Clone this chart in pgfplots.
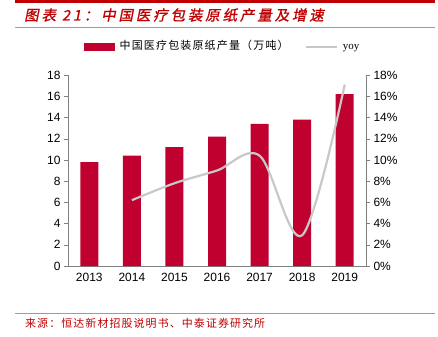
\documentclass[border=0pt]{standalone}
\usepackage{fontspec}
\setmainfont{Liberation Sans}
\newfontfamily\serifyoy{Liberation Serif}
\newfontfamily\cjk{Noto Sans CJK SC}
\newfontfamily\cjksrc[LetterSpace=10]{Noto Sans CJK SC}
\newfontfamily\cjkleg[LetterSpace=11]{Noto Sans CJK SC}
\newfontfamily\cjktitle[FakeSlant=0.2,FakeBold=1.2,LetterSpace=20]{Noto Sans CJK SC}
\usepackage{pgfplots}
\pgfplotsset{compat=1.18}
\definecolor{barred}{HTML}{C0002F}
\definecolor{titlered}{HTML}{C00000}
\definecolor{linered}{HTML}{E08080}
\definecolor{yoygrey}{HTML}{C8C8C8}
\definecolor{axgrey}{HTML}{808080}
\begin{document}
\begin{tikzpicture}[x=1bp,y=1bp]
\useasboundingbox (0,0) rectangle (438,-336);
\fill[titlered] (15,0) rectangle (435,-3);
\node[anchor=west, text=titlered, inner sep=0pt, font=\cjktitle\fontsize{14.5}{15}\selectfont] at (24,-15) {图表 21：中国医疗包装原纸产量及增速};
\draw[linered, line width=0.6bp] (15,-27) -- (435,-27);
\draw[linered, line width=0.6bp] (15,-313) -- (435,-313);
\node[anchor=west, text=titlered, inner sep=0pt, font=\cjksrc\fontsize{11}{12}\selectfont] at (25,-323) {来源：恒达新材招股说明书、中泰证券研究所};

\pgfplotsset{
  common/.style={
    at={(68bp,-266bp)}, anchor=south west,
    width=298bp, height=191bp, scale only axis,
    xmin=-0.5, xmax=6.5, ymin=0, ymax=18,
    ytick={0,2,...,18},
    /pgf/number format/assume math mode=true,
    tick label style={font=\fontsize{12}{13}\selectfont, text=black},
    axis line style={axgrey},
    tick style={axgrey},
    tick align=outside,
    major tick length=4bp,
  }
}

\begin{axis}[common,
  axis y line*=left, axis x line*=bottom,
  xtick={0,...,6}, xticklabels={2013,2014,2015,2016,2017,2018,2019},
  x tick style={draw=none},
  minor xtick={-0.5,0.5,...,6.5},
  minor x tick style={axgrey},
  minor tick length=4bp,
  ]
\addplot[ybar, bar width=18bp, fill=barred, draw=none, bar shift=0pt] coordinates {
(0,9.8) (1,10.4) (2,11.2) (3,12.2) (4,13.4) (5,13.8) (6,16.2)};
\end{axis}

\begin{axis}[common,
  axis y line*=right, axis x line=none,
  yticklabel={\pgfmathprintnumber{\tick}\%},
  legend columns=2,
  legend style={at={(0.516,1.147)}, anchor=center, draw=none, fill=none,
    font=\fontsize{11}{12}\selectfont,
    nodes={text height=8bp, text depth=2bp, inner sep=0pt},
    /tikz/every odd column/.append style={column sep=5bp},
    /tikz/every even column/.append style={column sep=16bp}},
  ]
\addlegendimage{legend image code/.code={\fill[barred] (0bp,-3.5bp) rectangle (30bp,3.5bp);}}
\addlegendentry{\cjkleg 中国医疗包装原纸产量（万吨）}
\addplot[yoygrey, line width=2.2bp, smooth, tension=0.55,
  legend image code/.code={\draw[yoygrey, line width=2.2bp] (0bp,0bp) -- (31bp,0bp);}]
 coordinates {(1,6.2) (2,7.8) (3,9.0) (4,10.4) (5,2.9) (6,17.1)};
\addlegendentry{\serifyoy yoy}
\end{axis}
\end{tikzpicture}
\end{document}
